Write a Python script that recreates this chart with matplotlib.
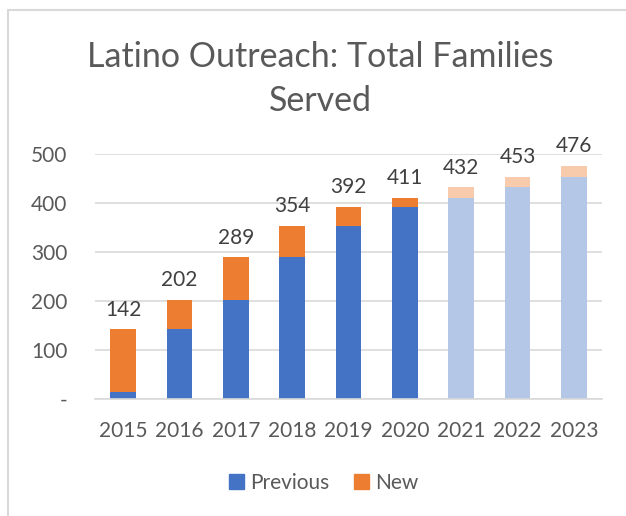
import matplotlib

matplotlib.use("Agg")
import matplotlib.pyplot as plt
from matplotlib.lines import Line2D
from matplotlib.patches import Patch
import numpy as np

years = ["2015", "2016", "2017", "2018", "2019", "2020", "2021", "2022", "2023"]
previous = [15, 142, 202, 289, 354, 392, 411, 432, 453]
totals = [142, 202, 289, 354, 392, 411, 432, 453, 476]
projected = [False, False, False, False, False, False, True, True, True]

PREV_COLOR = "#4472C4"
NEW_COLOR = "#ED7D31"
PREV_LIGHT = "#B4C7E7"
NEW_LIGHT = "#F8CBAD"
TEXT_COLOR = "#595959"
GRID_COLOR = "#D9D9D9"

plt.rcParams["font.family"] = ["Lato", "DejaVu Sans"]

figure = plt.figure(figsize=(6.26, 5.16), dpi=100)
axis = figure.add_axes([95 / 626, 1 - 399 / 516, 507 / 626, 245 / 516])

x = np.arange(len(years))
previous_arr = np.array(previous)
new_arr = np.array(totals) - previous_arr
prev_colors = [PREV_LIGHT if p else PREV_COLOR for p in projected]
new_colors = [NEW_LIGHT if p else NEW_COLOR for p in projected]

axis.bar(x, previous_arr, width=0.46, color=prev_colors, zorder=2)
axis.bar(x, new_arr, width=0.46, bottom=previous_arr, color=new_colors, zorder=2)

for xi, total in zip(x, totals):
    axis.text(xi, total + 40, str(total), ha="center", va="center", fontsize=15, color="#404040")

axis.set_xlim(-0.5, len(years) - 0.5)
axis.set_ylim(0, 500)
axis.set_yticks([0, 100, 200, 300, 400, 500])
axis.set_yticklabels(["-", "100", "200", "300", "400", "500"])
axis.set_xticks(x)
axis.set_xticklabels(years)
axis.tick_params(axis="both", length=0, labelsize=15, colors=TEXT_COLOR)
axis.tick_params(axis="y", pad=20)
axis.tick_params(axis="x", pad=16)
axis.grid(axis="y", color=GRID_COLOR, linewidth=1.2, zorder=0)
for side in ["top", "right", "left"]:
    axis.spines[side].set_visible(False)
axis.spines["bottom"].set_color(GRID_COLOR)
axis.spines["bottom"].set_linewidth(1.2)

figure.text(320 / 626, 1 - 79 / 516, "Latino Outreach: Total Families\nServed", ha="center", va="center",
            fontsize=24.5, color=TEXT_COLOR, linespacing=1.45)

handles = [Patch(color=PREV_COLOR), Patch(color=NEW_COLOR)]
figure.legend(handles, ["Previous", "New"], loc="center", bbox_to_anchor=(324 / 626, 1 - 483 / 516),
              ncol=2, frameon=False, fontsize=15, labelcolor=TEXT_COLOR,
              handlelength=0.7, handleheight=0.7, handletextpad=0.3, columnspacing=1.2)

# chart area border, cropped on the right and bottom
figure.add_artist(Line2D([8 / 626, 8 / 626], [0, 1 - 10 / 516], transform=figure.transFigure,
                         color=GRID_COLOR, linewidth=1.5))
figure.add_artist(Line2D([8 / 626, 1], [1 - 10 / 516, 1 - 10 / 516], transform=figure.transFigure,
                         color=GRID_COLOR, linewidth=1.5))

figure.savefig("out.png", dpi=100)
plt.close(figure)
